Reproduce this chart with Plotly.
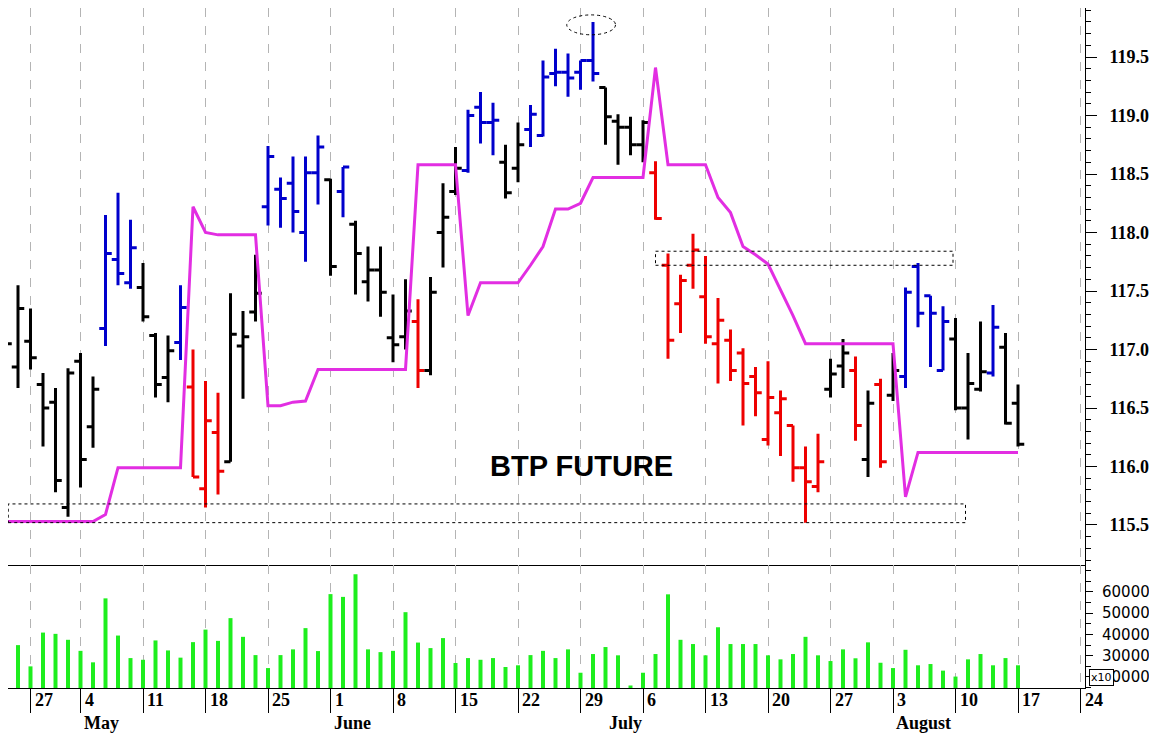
import pandas as pd
import plotly.graph_objects as go
from plotly.subplots import make_subplots

# trading days (Eurex closed on 1 May)
trade_dates = [d for d in pd.bdate_range('2015-04-23', '2015-08-17') if d != pd.Timestamp('2015-05-01')]

opens = [116.85, 116.85, 117.07, 116.70, 116.55, 115.65, 116.90, 116.34, 117.18, 117.77,
         117.57, 117.53, 117.12, 116.76, 117.06, 116.68, 115.81, 116.29, 116.04, 117.03,
         117.32, 118.22, 118.37, 118.42, 118.00, 118.51, 118.45, 118.35, 118.07, 117.58,
         117.68, 117.10, 117.11, 117.24, 116.82, 118.00, 118.35, 118.53, 119.07, 118.94,
         118.60, 118.55, 118.88, 118.83, 119.36, 119.37, 119.37, 119.47, 119.24, 118.95,
         118.90, 118.75, 118.51, 117.72, 117.39, 117.72, 117.45, 117.05, 117.08, 116.97,
         116.77, 116.23, 116.46, 116.35, 115.99, 115.83, 116.66, 116.86, 116.82, 116.06,
         116.70, 116.61, 116.77, 117.71, 117.46, 116.82, 117.09, 116.50, 116.66, 116.80,
         117.02, 116.54]
highs = [117.44, 117.55, 117.35, 116.80, 116.67, 116.84, 116.97, 116.77, 118.15, 118.34,
         118.11, 117.74, 117.14, 117.12, 117.55, 117.00, 116.73, 116.63, 117.48, 117.33,
         117.81, 118.74, 118.47, 118.65, 118.65, 118.83, 118.46, 118.56, 118.10, 117.88,
         117.88, 117.47, 117.60, 117.43, 117.62, 118.42, 118.73, 119.05, 119.20, 119.11,
         118.75, 118.94, 119.09, 119.47, 119.57, 119.53, 119.47, 119.80, 119.24, 119.01,
         118.99, 118.96, 118.61, 117.82, 117.64, 117.99, 117.80, 117.44, 117.17, 117.01,
         116.85, 116.90, 116.65, 116.35, 116.17, 116.28, 116.92, 117.09, 116.94, 116.65,
         116.75, 116.97, 117.53, 117.74, 117.46, 117.37, 117.27, 116.97, 117.24, 117.38,
         117.14, 116.70]
lows = [116.82, 116.67, 116.83, 116.17, 115.78, 115.57, 115.82, 116.16, 117.03, 117.55,
        117.52, 117.24, 116.59, 116.55, 116.91, 115.91, 115.65, 115.76, 116.04, 116.58,
        117.24, 118.06, 118.04, 118.00, 117.75, 118.24, 117.63, 118.13, 117.47, 117.41,
        117.28, 116.89, 117.00, 116.67, 116.78, 117.70, 118.32, 118.51, 118.76, 118.66,
        118.29, 118.43, 118.73, 118.82, 119.25, 119.16, 119.22, 119.29, 118.75, 118.58,
        118.66, 118.60, 118.11, 116.92, 117.14, 117.52, 117.05, 116.71, 116.73, 116.35,
        116.43, 116.18, 116.09, 115.87, 115.52, 115.78, 116.59, 116.67, 116.22, 115.91,
        115.99, 116.56, 116.67, 117.19, 116.85, 116.82, 116.48, 116.23, 116.64, 116.77,
        116.36, 116.17]
closes = [117.05, 117.35, 116.93, 116.50, 115.88, 116.80, 116.06, 116.66, 117.82, 117.65,
          117.87, 117.28, 116.70, 116.99, 117.36, 115.91, 116.39, 115.96, 117.13, 117.11,
          117.48, 118.65, 118.29, 118.18, 118.51, 118.73, 117.71, 118.56, 117.82, 117.68,
          117.49, 117.04, 117.33, 116.82, 117.49, 118.13, 118.55, 119.00, 118.94, 118.96,
          118.34, 118.75, 119.01, 119.33, 119.37, 119.32, 119.47, 119.36, 118.99, 118.90,
          118.75, 118.94, 118.12, 117.08, 117.59, 117.85, 117.11, 117.25, 116.82, 116.71,
          116.63, 116.59, 116.58, 115.99, 115.87, 116.04, 116.79, 116.97, 116.35, 116.54,
          116.04, 116.82, 117.49, 117.31, 117.31, 117.24, 116.50, 116.71, 116.81, 117.19,
          116.37, 116.19]
# bar colour code: k = neutral, b = up trend, r = down trend
bar_state = list('kkkkkkkkbbbkkkbrrrkkkbbbbbkbkkkkkrkkkbbbkkbbbbbbkkkkrrrrrrrrrrrrrrkkrkrkbbbbkkkbkk')

stop_line = [115.53, 115.53, 115.53, 115.53, 115.53, 115.53, 115.53, 115.53, 115.59, 115.99,
             115.99, 115.99, 115.99, 115.99, 115.99, 118.22, 118.00, 117.98, 117.98, 117.98,
             117.98, 116.52, 116.52, 116.55, 116.56, 116.83, 116.83, 116.83, 116.83, 116.83,
             116.83, 116.83, 116.83, 118.58, 118.58, 118.58, 118.58, 117.29, 117.57, 117.57,
             117.57, 117.57, 117.72, 117.88, 118.20, 118.20, 118.25, 118.47, 118.47, 118.47,
             118.47, 118.47, 119.41, 118.58, 118.58, 118.58, 118.58, 118.30, 118.17, 117.88,
             117.81, 117.73, 117.51, 117.29, 117.05, 117.05, 117.05, 117.05, 117.05, 117.05,
             117.05, 117.05, 115.74, 116.12, 116.12, 116.12, 116.12, 116.12, 116.12, 116.12,
             116.12, 116.12]

volumes = [30900, 35000, 25000, 40900, 40300, 37500, 32300, 26900, 57000, 39500,
           28900, 28100, 37200, 32500, 29100, 36400, 42300, 37000, 47700, 38900,
           30300, 24200, 30300, 33000, 43000, 32200, 59000, 57700, 68300, 33000,
           31700, 32300, 50500, 36200, 33600, 38300, 26600, 28900, 28100, 28900,
           24700, 25500, 30300, 32300, 28900, 33000, 22000, 30800, 34100, 30200,
           16000, 22000, 30800, 58900, 37500, 35500, 30200, 43400, 35500, 35500,
           35500, 30200, 28300, 30800, 38900, 30200, 27500, 33000, 28800, 36300,
           26700, 24200, 32800, 25500, 26100, 23000, 20200, 28300, 30800, 25500,
           28900, 25500]

price_ticks = [115.5, 116.0, 116.5, 117.0, 117.5, 118.0, 118.5, 119.0, 119.5]
volume_ticks = [20000, 30000, 40000, 50000, 60000]

bar_colors = {'k': '#000000', 'b': '#0000CC', 'r': '#EE0000'}

n = len(trade_dates)
idx = list(range(n))

# weekly separators on Mondays (plus the next Monday after the last bar)
mondays = [i for i, d in enumerate(trade_dates) if d.weekday() == 0]
monday_labels = [str(trade_dates[i].day) for i in mondays]
mondays.append(mondays[-1] + 5)
monday_labels.append(str((trade_dates[-1] + pd.Timedelta(days=7)).day))

month_starts = [i for i in range(1, n) if trade_dates[i].month != trade_dates[i - 1].month]
month_names = [trade_dates[i].strftime('%B') for i in month_starts]

# page body keeps an 8px margin, so the figure is sized to the visible area
W, H = 1149, 726
x_range = [0.2, 86.36]


def py(px):
    # pixel row (from figure top) -> paper fraction
    return (H - px) / H


fig = make_subplots(rows=2, cols=1, shared_xaxes=True, vertical_spacing=0)

# volume
fig.add_trace(go.Bar(x=idx, y=volumes, width=0.32, marker_color='#1EEE1E',
                     marker_line_width=0), row=2, col=1)

# price bars, one trace per colour state
for state, col in bar_colors.items():
    sel = [i for i in idx if bar_state[i] == state]
    fig.add_trace(go.Ohlc(
        x=sel,
        open=[opens[i] for i in sel],
        high=[highs[i] for i in sel],
        low=[lows[i] for i in sel],
        close=[closes[i] for i in sel],
        increasing_line_color=col,
        decreasing_line_color=col,
        line_width=3,
        tickwidth=0.5,
    ), row=1, col=1)

fig.add_trace(go.Scatter(x=idx, y=stop_line, mode='lines',
                         line=dict(color='#E22EE2', width=3)), row=1, col=1)

grid = dict(showgrid=True, gridcolor='#B4B4B4', griddash='dash', gridwidth=1,
            tickmode='array', tickvals=mondays, range=x_range,
            showticklabels=False, zeroline=False)

fig.update_layout(
    width=W, height=H,
    margin=dict(l=0, r=72, t=0, b=0),
    plot_bgcolor='white', paper_bgcolor='white',
    showlegend=False,
    xaxis=dict(**grid, showline=True, linecolor='black', linewidth=1, ticks='',
               rangeslider=dict(visible=False)),
    xaxis2=dict(**grid, showline=True, linecolor='black', linewidth=1,
                ticks='outside', ticklen=24, tickcolor='black', tickwidth=1,
                rangeslider=dict(visible=False)),
    xaxis3=dict(overlaying='x2', anchor='free', position=py(704), range=x_range,
                tickmode='array', tickvals=month_starts, showticklabels=False,
                ticks='outside', ticklen=22, tickcolor='black', tickwidth=1,
                showline=True, linecolor='black', linewidth=1,
                showgrid=False, zeroline=False),
    yaxis=dict(domain=[py(557), 1.0], side='right', range=[115.158, 119.919],
               tickmode='array', tickvals=price_ticks,
               ticktext=['%.1f' % v for v in price_ticks],
               showline=True, linecolor='black', linewidth=1,
               ticks='outside', ticklen=11, tickcolor='black',
               minor=dict(dtick=0.1, ticks='outside', ticklen=5, tickcolor='black'),
               ticklabelstandoff=9,
               tickfont=dict(family='Liberation Serif', size=18, color='black', weight='bold'),
               showgrid=False, zeroline=False),
    yaxis2=dict(domain=[py(680), py(557)], side='right', range=[14820, 72700],
                tickmode='array', tickvals=volume_ticks,
                ticktext=[str(v) for v in volume_ticks],
                showline=True, linecolor='black', linewidth=1,
                ticks='outside', ticklen=7, tickcolor='black',
                minor=dict(dtick=5000, ticks='outside', ticklen=5, tickcolor='black'),
                ticklabelstandoff=6,
                tickfont=dict(family='DejaVu Sans', size=15, color='black'),
                showgrid=False, zeroline=False),
)

# day numbers in the first row under the chart
for i, lab in zip(mondays, monday_labels):
    fig.add_annotation(x=i, y=py(692), xref='x2', yref='paper', text=lab,
                       showarrow=False, xanchor='left', xshift=2, yanchor='middle',
                       font=dict(family='Liberation Serif', size=18, color='black', weight='bold'))

# month names in the second row
for i, lab in zip(month_starts, month_names):
    fig.add_annotation(x=i, y=py(715), xref='x2', yref='paper', text=lab,
                       showarrow=False, xanchor='left', xshift=1, yanchor='middle',
                       font=dict(family='Liberation Serif', size=18, color='black', weight='bold'))

# volume scale multiplier box
fig.add_annotation(x=1093 / 1077, y=py(669), xref='paper', yref='paper',
                   xanchor='center', yanchor='middle',
                   text='x10', showarrow=False, bgcolor='white', bordercolor='black',
                   borderwidth=1, borderpad=1,
                   font=dict(family='DejaVu Sans', size=11, color='black'))

fig.add_annotation(x=46.1, y=116.0, xref='x', yref='y', text='BTP FUTURE', showarrow=False,
                   font=dict(family='Liberation Sans', size=29, color='black', weight='bold'))

# hand drawn highlight boxes
fig.add_shape(type='rect', xref='x', yref='y', x0=0.22, x1=76.8, y0=115.52, y1=115.68,
              line=dict(color='black', width=1, dash='dot'))
fig.add_shape(type='rect', xref='x', yref='y', x0=52.0, x1=75.8, y0=117.72, y1=117.84,
              line=dict(color='black', width=1, dash='dot'))
fig.add_shape(type='circle', xref='x', yref='y', x0=44.9, x1=48.8, y0=119.69, y1=119.86,
              line=dict(color='black', width=1, dash='dot'))

fig.write_html("out.html")
